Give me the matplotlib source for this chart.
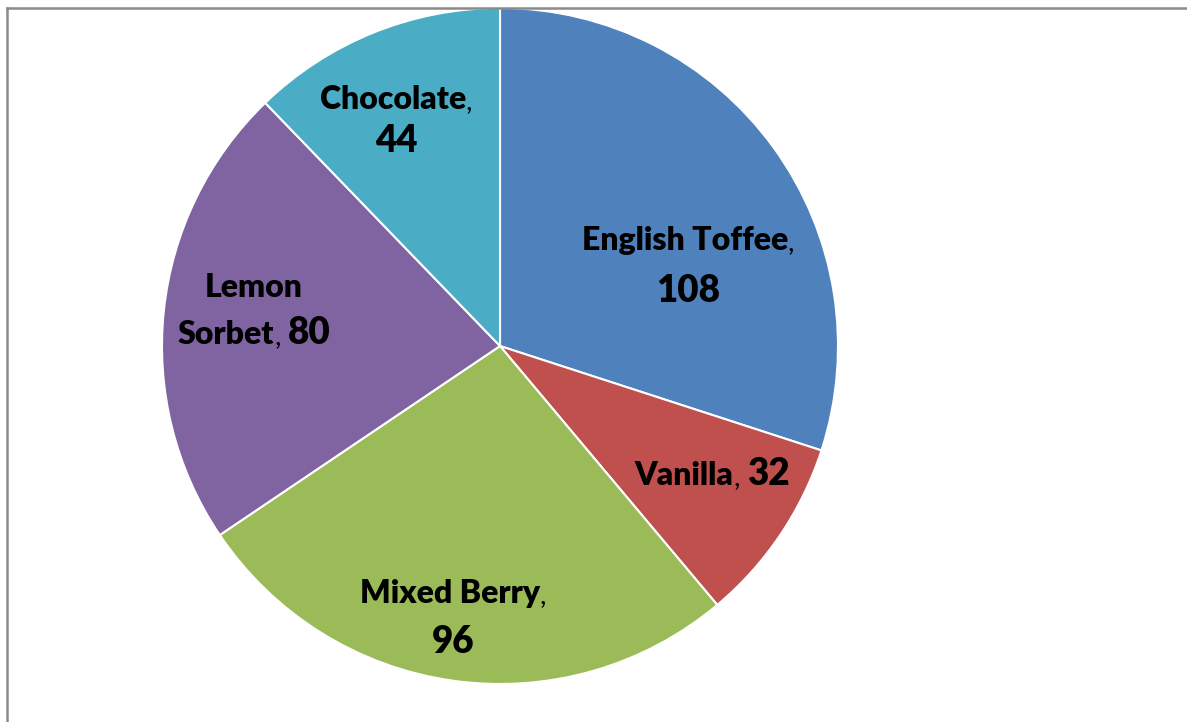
import matplotlib
matplotlib.use("Agg")
import matplotlib.pyplot as plt
from matplotlib.lines import Line2D

# data
flavors = ["English Toffee", "Vanilla", "Mixed Berry", "Lemon Sorbet", "Chocolate"]
counts = [108, 32, 96, 80, 44]
colors = ["#4F81BD", "#C0504D", "#9BBB59", "#8064A2", "#4BACC6"]

W, H = 1187, 722
fig = plt.figure(figsize=(W / 100, H / 100), dpi=100)
ax = fig.add_axes([0, 0, 1, 1])

ax.pie(counts, colors=colors, startangle=90, counterclock=False,
       center=(500, H - 346), radius=338,
       wedgeprops=dict(edgecolor="white", linewidth=1.5))
ax.set_xlim(0, W)
ax.set_ylim(0, H)
ax.set_aspect("auto")
ax.axis("off")

# outer frame (top and left only visible)
fig.add_artist(Line2D([6.5 / W, 1], [1 - 7.5 / H, 1 - 7.5 / H], color="#8a8a8a", lw=1.8))
fig.add_artist(Line2D([6.5 / W, 6.5 / W], [0, 1 - 7.5 / H], color="#8a8a8a", lw=1.8))

styles = {
    "name": dict(fontsize=23, fontweight="heavy", family="Lato"),
    "comma": dict(fontsize=21, fontweight="normal", family="Lato"),
    "value": dict(fontsize=26.5, fontweight="heavy", family="Lato"),
}
renderer = fig.canvas.get_renderer()


def put_line(parts, cx, base_y):
    items = []
    total = 0
    for s, kind in parts:
        if kind == "gap":
            items.append((None, s))
            total += s
            continue
        t = ax.text(0, H - base_y, s, ha="left", va="baseline", **styles[kind])
        w = t.get_window_extent(renderer).width
        items.append((t, w))
        total += w
    x = cx - total / 2
    for t, w in items:
        if t is not None:
            t.set_x(x)
        x += w


# label layout: lines of (text, style), centre x, baseline y (pixels from top)
put_line([(flavors[0], "name"), (",", "comma")], 688, 250)
put_line([(str(counts[0]), "value")], 688, 302)

put_line([(flavors[1], "name"), (",", "comma"), (7, "gap"), (str(counts[1]), "value")], 712, 485)

put_line([(flavors[2], "name"), (",", "comma")], 453, 603)
put_line([(str(counts[2]), "value")], 453, 653)

put_line([("Lemon", "name")], 254, 297)
put_line([("Sorbet", "name"), (",", "comma"), (7, "gap"), (str(counts[3]), "value")], 254, 344)

put_line([(flavors[4], "name"), (",", "comma")], 396, 109)
put_line([(str(counts[4]), "value")], 396, 152)

fig.savefig("out.png", dpi=100)
